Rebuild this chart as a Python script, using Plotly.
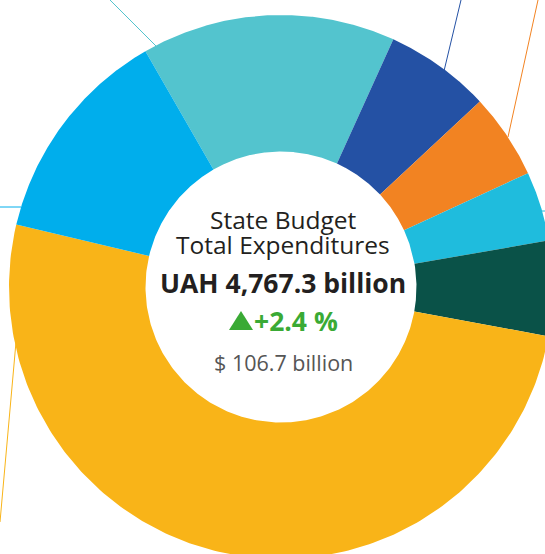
import numpy as np
import plotly.graph_objects as go

# ---- data (UAH billion), clockwise order starting at the top-left slice ----
categories = ["Category A", "Category B", "Category C", "Category D",
              "Category E", "Category F", "Category G"]
values = [719, 299, 242, 197, 269, 2421, 620]
colors = ["#53C4CE", "#2451A4", "#F28322", "#1FBCDD", "#0A5248", "#F9B418", "#00AEEC"]

title_lines = ["State Budget", "Total Expenditures"]
total_label = "UAH 4,767.3 billion"
change_label = "+2.4 %"
usd_label = "$ 106.7 billion"

# ---- geometry / styling ----
W, H = 545, 554
CX, CY = 281, 287          # centre of the donut in pixels (from top-left)
R_OUT, R_IN = 272, 135.5
START_DEG = -29.9           # clockwise from 12 o'clock

fig = go.Figure()

total = sum(values)
angle = START_DEG
for name, v, c in zip(categories, values, colors):
    span = 360.0 * v / total
    th = np.radians(np.linspace(angle, angle + span, 200))
    xs = np.concatenate([R_OUT * np.sin(th), R_IN * np.sin(th[::-1])])
    ys = np.concatenate([R_OUT * np.cos(th), R_IN * np.cos(th[::-1])])
    fig.add_trace(go.Scatter(
        x=xs, y=ys, fill="toself", fillcolor=c, mode="lines",
        line=dict(width=0, color=c), name=name,
        hovertemplate=f"{name}: UAH {v:,} billion<extra></extra>",
        showlegend=False))
    angle += span

# leader lines (pixel coords on the canvas, converted to data coords)
leaders = [
    ((110, 0), (156, 46), "#53C4CE"),
    ((461, 0), (444, 71), "#2451A4"),
    ((538, 0), (508, 137), "#F28322"),
    ((542, 211), (546, 211), "#1FBCDD"),
    ((0, 207), (21, 207), "#00AEEC"),
    ((16, 342), (0, 522), "#F9B418"),
]
for (x0, y0), (x1, y1), c in leaders:
    fig.add_shape(type="line", x0=x0 - CX, y0=CY - y0, x1=x1 - CX, y1=CY - y1,
                  line=dict(color=c, width=1), layer="below")

FONT = "Open Sans"
DARK = "#231F20"
GREEN = "#3AAA35"

# green "up" triangle in front of the change label
fig.add_shape(type="path", path="M -52,-43 L -28,-43 L -40,-24 Z",
              fillcolor=GREEN, line=dict(width=0), layer="above")

texts = [
    (title_lines[0], 68, 24.5, DARK, "normal", 2, "center"),
    (title_lines[1], 43, 24.5, DARK, "normal", 2, "center"),
    (total_label, 4, 26.5, DARK, "bold", 2, "center"),
    (change_label, -34, 26.5, GREEN, "bold", -28, "left"),
    (usd_label, -75, 21.5, "#555555", "normal", 2, "center"),
]
for t, y, s, c, w, x, xa in texts:
    fig.add_annotation(x=x, y=y, text=t, showarrow=False, xanchor=xa,
                       yanchor="middle", borderpad=0,
                       font=dict(family=FONT, size=s, color=c, weight=w))

fig.update_layout(
    width=W, height=H, margin=dict(l=0, r=0, t=0, b=0),
    paper_bgcolor="white", plot_bgcolor="white",
    xaxis=dict(range=[-CX, W - CX], visible=False, fixedrange=True),
    yaxis=dict(range=[CY - H, CY], visible=False, fixedrange=True),
    showlegend=False,
)

fig.write_html("out.html",
               config={"displayModeBar": False},
               post_script="document.body.style.margin='0';"
                           "document.body.style.overflow='hidden';")
